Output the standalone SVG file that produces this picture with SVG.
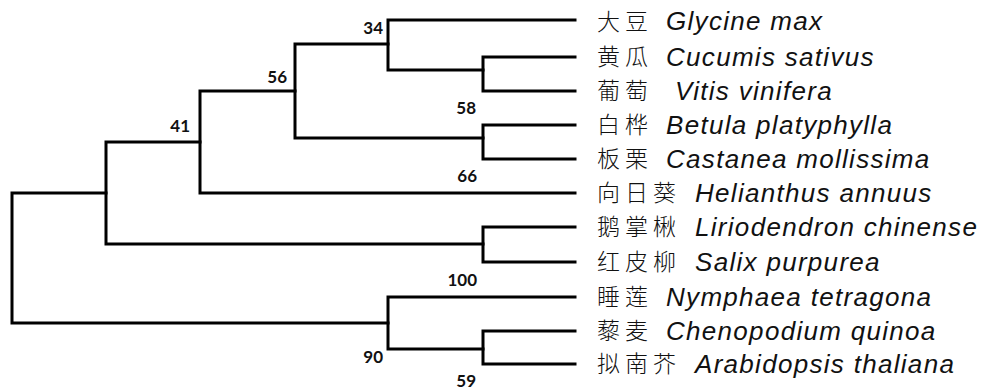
<svg xmlns="http://www.w3.org/2000/svg" width="982" height="392" viewBox="0 0 982 392">
<style>
.br{fill:none;stroke:#000;stroke-width:3;stroke-linecap:square;stroke-linejoin:miter}
.bs{font-family:Lato,"Open Sans","Liberation Sans",sans-serif;font-weight:700;font-size:17px;fill:#111;text-anchor:end}
.cn{font-family:"Noto Sans CJK SC","Noto Sans CJK TC",sans-serif;font-size:23px;letter-spacing:5px;fill:#111;font-weight:300}
.la{font-family:"Liberation Sans",Arial,sans-serif;font-style:italic;font-size:26px;letter-spacing:1.3px;fill:#111}
</style>
<rect width="982" height="392" fill="#fff"/>
<g id="connectors" class="br">
<path d="M388,20H575M388,20V70H483"/>
<path d="M483,57H575M483,57V91H575"/>
<path d="M295,44H388M295,44V138H483"/>
<path d="M483,125H575M483,125V159H575"/>
<path d="M200,91H295M200,91V193H575"/>
<path d="M106,142H200M106,142V244H483"/>
<path d="M483,227H575M483,227V262H575"/>
<path d="M12,193H106M12,193V323H388"/>
<path d="M388,297H575M388,297V349H483"/>
<path d="M483,331H575M483,331V364H575"/>
</g>
<g id="bootstrap">
<text class="bs" x="383" y="34">34</text>
<text class="bs" x="287" y="83">56</text>
<text class="bs" x="190" y="132">41</text>
<text class="bs" x="476" y="114">58</text>
<text class="bs" x="477" y="182">66</text>
<text class="bs" x="477" y="286">100</text>
<text class="bs" x="383" y="363">90</text>
<text class="bs" x="476" y="387">59</text>
</g>
<g id="leaf-glycine"><text class="cn" x="597" y="30">大豆</text><text class="la" x="666" y="30">Glycine max</text></g>
<g id="leaf-cucumis"><text class="cn" x="597" y="65">黄瓜</text><text class="la" x="666" y="66">Cucumis sativus</text></g>
<g id="leaf-vitis"><text class="cn" x="597" y="99">葡萄</text><text class="la" x="675" y="100">Vitis vinifera</text></g>
<g id="leaf-betula"><text class="cn" x="597" y="133">白桦</text><text class="la" x="666" y="134">Betula platyphylla</text></g>
<g id="leaf-castanea"><text class="cn" x="597" y="167">板栗</text><text class="la" x="666" y="168">Castanea mollissima</text></g>
<g id="leaf-helianthus"><text class="cn" x="597" y="201">向日葵</text><text class="la" x="695" y="202">Helianthus annuus</text></g>
<g id="leaf-liriodendron"><text class="cn" x="597" y="235">鹅掌楸</text><text class="la" x="695" y="236">Liriodendron chinense</text></g>
<g id="leaf-salix"><text class="cn" x="597" y="270">红皮柳</text><text class="la" x="695" y="271">Salix purpurea</text></g>
<g id="leaf-nymphaea"><text class="cn" x="597" y="305">睡莲</text><text class="la" x="666" y="306">Nymphaea tetragona</text></g>
<g id="leaf-chenopodium"><text class="cn" x="597" y="339">藜麦</text><text class="la" x="666" y="340">Chenopodium quinoa</text></g>
<g id="leaf-arabidopsis"><text class="cn" x="597" y="372">拟南芥</text><text class="la" x="695" y="373">Arabidopsis thaliana</text></g>
</svg>
